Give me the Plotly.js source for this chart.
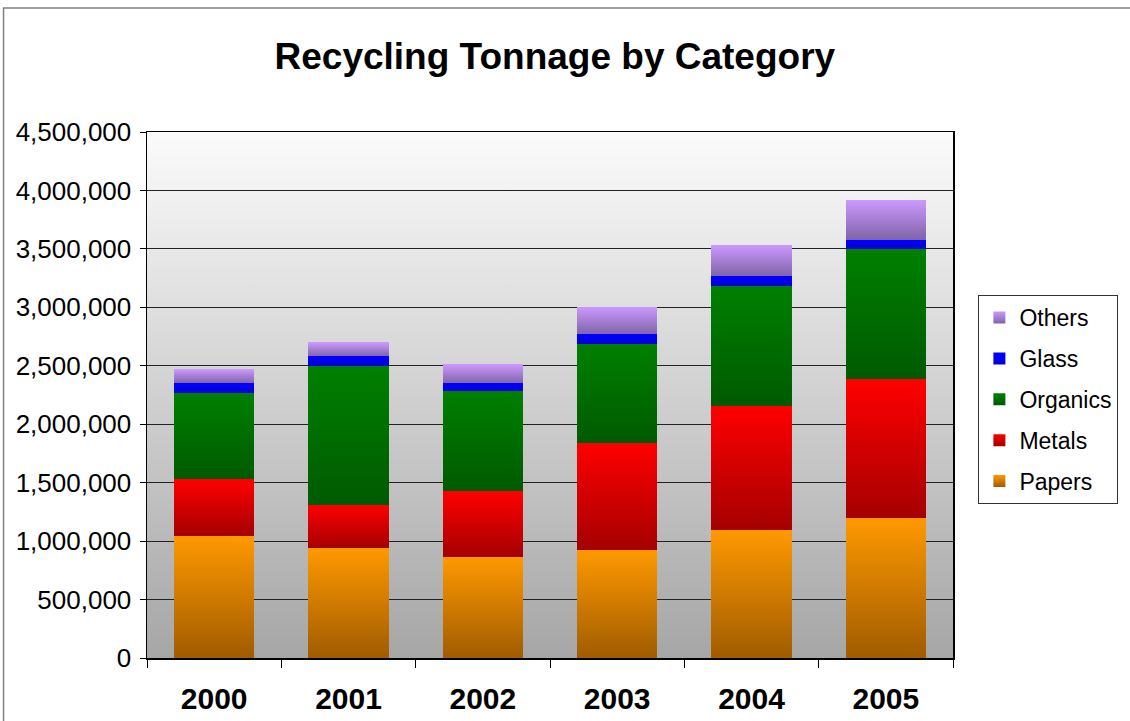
<!DOCTYPE html>
<html>
<head>
<meta charset="utf-8">
<script src="https://cdn.plot.ly/plotly-3.0.1.min.js"></script>
<style>html,body{margin:0;padding:0;background:#fff;}#chart{width:1130px;height:721px;}</style>
</head>
<body>
<div id="chart"></div>
<script>
const years = ['2000', '2001', '2002', '2003', '2004', '2005'];
const papers = [1046000, 943000, 866000, 926000, 1098000, 1200000];
const metals = [489000, 369000, 566000, 912000, 1054000, 1187000];
const organics = [732000, 1184000, 849000, 846000, 1029000, 1115000];
const glass = [83000, 84000, 69000, 86000, 86000, 78000];
const others = [120000, 120000, 163000, 234000, 266000, 339000];

const seriesNames = ['Papers', 'Metals', 'Organics', 'Glass', 'Others'];
const seriesValues = [papers, metals, organics, glass, others];
const gradTop = ['#FF9900', '#FF0000', '#008000', '#0000FF', '#CC99FF'];
const gradBottom = ['#A05C00', '#A50000', '#005A00', '#0000D8', '#8064A8'];

const traces = seriesNames.map((n, i) => ({
  type: 'bar', name: n, x: years, y: seriesValues[i],
  legendgroup: n,
  legendrank: seriesNames.length - i,
  marker: {color: gradTop[i], line: {width: 0}},
  hoverinfo: 'x+y+name'
}));

const FONT = 'Liberation Sans, Arial, Helvetica, sans-serif';
const layout = {
  width: 1130, height: 721,
  margin: {l: 147, r: 175, t: 132, b: 63},
  paper_bgcolor: '#ffffff',
  plot_bgcolor: '#d0d0d0',
  barmode: 'stack',
  bargap: 0.4,
  font: {family: FONT, color: '#000'},
  title: {text: 'Recycling Tonnage by Category', font: {family: FONT, size: 37, weight: 'bold', color: '#000'},
          x: 0.491, xanchor: 'center', y: 0.922, yanchor: 'middle'},
  xaxis: {type: 'category', tickson: 'boundaries', ticks: 'outside', ticklen: 8, tickcolor: '#000', tickwidth: 1,
          ticklabelstandoff: 13,
          showline: true, linecolor: '#000', linewidth: 1.5, mirror: true, showgrid: false,
          tickfont: {family: FONT, size: 30, weight: 'bold', color: '#000'}},
  yaxis: {range: [0, 4500000], dtick: 500000, tickformat: ',d', ticks: 'outside', ticklen: 6, tickcolor: '#000',
          ticklabelstandoff: 3,
          showline: true, linecolor: '#000', linewidth: 1.5, mirror: true,
          showgrid: true, gridcolor: '#222', gridwidth: 1, zeroline: false,
          tickfont: {family: FONT, size: 26, color: '#000'}},
  legend: {x: 1.0315, xanchor: 'left', y: 0.69, yanchor: 'top', traceorder: 'grouped', tracegroupgap: 8,
           bordercolor: '#333', borderwidth: 1, bgcolor: '#fff',
           font: {family: FONT, size: 23, color: '#000'}},
  shapes: [{type: 'rect', xref: 'paper', yref: 'paper', x0: -0.178, x1: 1.3, y0: -0.2, y1: 1.2357,
            line: {color: '#808080', width: 1.5}, fillcolor: 'rgba(0,0,0,0)', layer: 'below'}]
};

const gd = document.getElementById('chart');
Plotly.newPlot(gd, traces, layout, {displayModeBar: false, staticPlot: true}).then(() => {
  const NS = 'http://www.w3.org/2000/svg';
  const svg = gd.querySelector('.main-svg');
  let defs = svg.querySelector('defs');
  if (!defs) { defs = document.createElementNS(NS, 'defs'); svg.insertBefore(defs, svg.firstChild); }
  function addGrad(id, top, bottom) {
    const g = document.createElementNS(NS, 'linearGradient');
    g.setAttribute('id', id);
    g.setAttribute('x1', '0'); g.setAttribute('y1', '0'); g.setAttribute('x2', '0'); g.setAttribute('y2', '1');
    [[0, top], [1, bottom]].forEach(([o, c]) => {
      const s = document.createElementNS(NS, 'stop');
      s.setAttribute('offset', o); s.setAttribute('stop-color', c);
      g.appendChild(s);
    });
    defs.appendChild(g);
  }
  seriesNames.forEach((n, i) => addGrad('bargrad' + i, gradTop[i], gradBottom[i]));
  addGrad('bggrad', '#FBFBFB', '#A6A6A6');
  const bg = gd.querySelector('.bglayer rect.bg');
  if (bg) bg.style.fill = 'url(#bggrad)';
  gd.querySelectorAll('.barlayer .trace').forEach(t => {
    const idx = t.__data__ && t.__data__[0] && t.__data__[0].trace ? t.__data__[0].trace.index : null;
    if (idx === null) return;
    t.querySelectorAll('path').forEach(p => { p.style.fill = 'url(#bargrad' + idx + ')'; });
  });
  gd.querySelectorAll('.legend .traces').forEach(t => {
    const idx = t.__data__ && t.__data__[0] && t.__data__[0].trace ? t.__data__[0].trace.index : null;
    if (idx === null) return;
    t.querySelectorAll('.legendpoints path').forEach(p => { p.style.fill = 'url(#bargrad' + idx + ')'; });
  });
});
</script>
</body>
</html>
